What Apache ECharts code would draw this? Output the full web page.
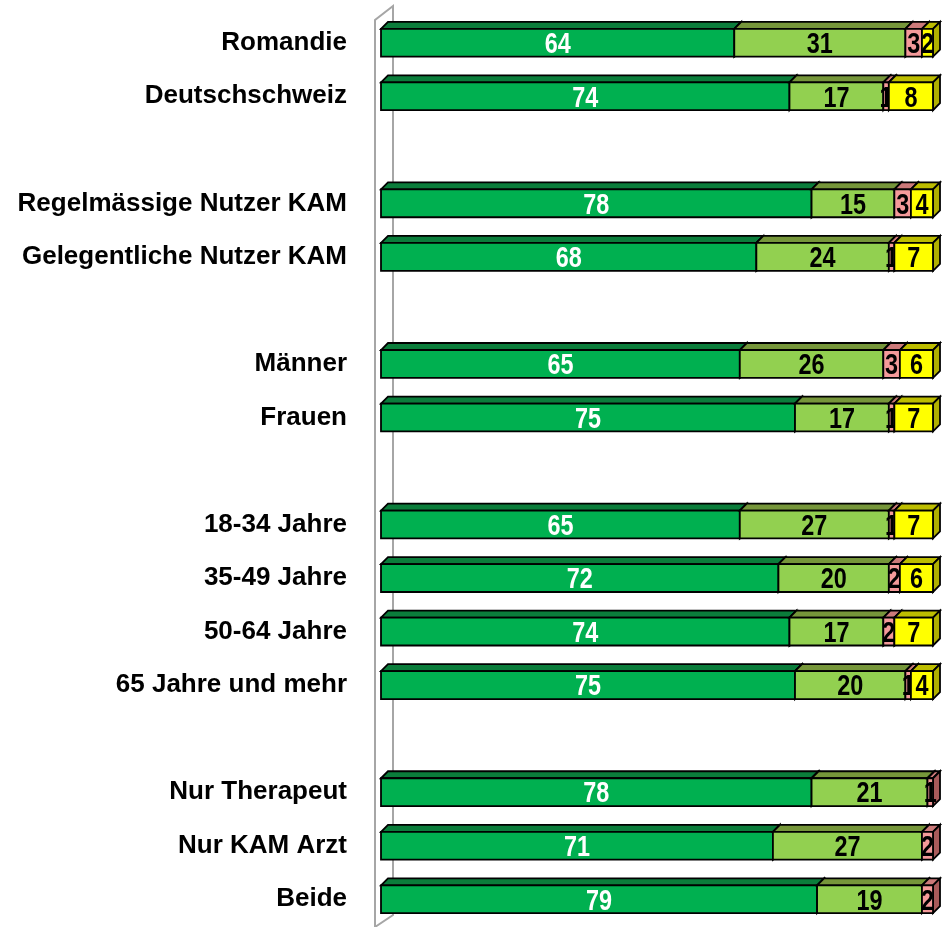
<!DOCTYPE html>
<html>
<head>
<meta charset="utf-8">
<script src="https://cdn.jsdelivr.net/npm/echarts@6/dist/echarts.min.js"></script>
<style>
  html, body { margin: 0; padding: 0; background: #fff; }
  #chart { width: 945px; height: 927px; }
</style>
</head>
<body>
<div id="chart"></div>
<script>
// categories, gaps are blank rows (unique whitespace so the axis keeps them apart)
const categories = ['Romandie', 'Deutschschweiz', ' ', 'Regelmässige Nutzer KAM', 'Gelegentliche Nutzer KAM', '  ',
  'Männer', 'Frauen', '   ', '18-34 Jahre', '35-49 Jahre', '50-64 Jahre', '65 Jahre und mehr', '    ',
  'Nur Therapeut', 'Nur KAM Arzt', 'Beide']

// percentages per segment, null = gap row
const darkGreen = [64, 74, null, 78, 68, null, 65, 75, null, 65, 72, 74, 75, null, 78, 71, 79]
const lightGreen = [31, 17, null, 15, 24, null, 26, 17, null, 27, 20, 17, 20, null, 21, 27, 19]
const pink = [3, 1, null, 3, 1, null, 3, 1, null, 1, 2, 2, 1, null, 1, 2, 2]
const yellow = [2, 8, null, 4, 7, null, 6, 7, null, 7, 6, 7, 4, null, 0, 0, 0]

const segments = [darkGreen, lightGreen, pink, yellow]
const faces = [
  { front: '#00b050', top: '#0b7d3b', side: '#0b7d3b', text: '#fff' },
  { front: '#92d050', top: '#76963a', side: '#76963a', text: '#000' },
  { front: '#f49a9a', top: '#cc7a7a', side: '#a85a5a', text: '#000' },
  { front: '#ffff00', top: '#bdbd00', side: '#b0b000', text: '#000' }
]
const depth = 7

function buildData (idx) {
  const out = []
  categories.forEach((c, i) => {
    const v = segments[idx][i]
    if (v === null || v === 0) return
    let start = 0
    for (let k = 0; k < idx; k++) start += segments[k][i] || 0
    out.push([i, start, v])
  })
  return out
}

function makeRender (idx) {
  const f = faces[idx]
  return function (params, api) {
    const cat = api.value(0)
    const start = api.value(1)
    const val = api.value(2)
    const p0 = api.coord([start, cat])
    const p1 = api.coord([start + val, cat])
    const h = api.size([0, 1])[1] * 0.52
    const x0 = p0[0]
    const x1 = p1[0]
    const top = p0[1] - h / 2
    const bot = p0[1] + h / 2
    const line = { stroke: '#000', lineWidth: 1.8, lineJoin: 'miter' }
    return {
      type: 'group',
      children: [
        {
          type: 'polygon',
          shape: { points: [[x0, top], [x0 + depth, top - depth], [x1 + depth, top - depth], [x1, top]] },
          style: Object.assign({ fill: f.top }, line)
        },
        {
          type: 'polygon',
          shape: { points: [[x1, top], [x1 + depth, top - depth], [x1 + depth, bot - depth], [x1, bot]] },
          style: Object.assign({ fill: f.side }, line)
        },
        {
          type: 'rect',
          shape: { x: x0, y: top, width: x1 - x0, height: h },
          style: Object.assign({ fill: f.front }, line)
        },
        {
          type: 'text',
          x: (x0 + x1) / 2,
          y: p0[1] + 2,
          scaleX: 0.78,
          style: {
            x: 0,
            y: 0,
            text: String(val),
            fill: f.text,
            font: "bold 30px 'Liberation Sans', Arial, sans-serif",
            align: 'center',
            verticalAlign: 'middle'
          }
        }
      ]
    }
  }
}

const chart = echarts.init(document.getElementById('chart'))
chart.setOption({
  backgroundColor: '#fff',
  animation: false,
  grid: { left: 381, right: 12, top: 16, bottom: 1 },
  xAxis: { type: 'value', min: 0, max: 100, show: false },
  yAxis: {
    type: 'category',
    data: categories,
    inverse: true,
    axisLine: { show: false },
    axisTick: { show: false },
    splitLine: { show: false },
    axisLabel: {
      margin: 34,
      color: '#000',
      fontSize: 26,
      fontWeight: 'bold',
      fontFamily: "'Liberation Sans', Arial, sans-serif"
    }
  },
  graphic: [{
    type: 'polyline',
    z: 0,
    shape: { points: [[375, 927], [375, 20], [393, 6], [393, 915], [375, 927]] },
    style: { stroke: '#a6a6a6', lineWidth: 2, fill: null }
  }],
  series: segments.map((s, i) => ({
    type: 'custom',
    z: 2 + i,
    renderItem: makeRender(i),
    encode: { x: [1, 2], y: 0 },
    data: buildData(i)
  }))
})
</script>
</body>
</html>
